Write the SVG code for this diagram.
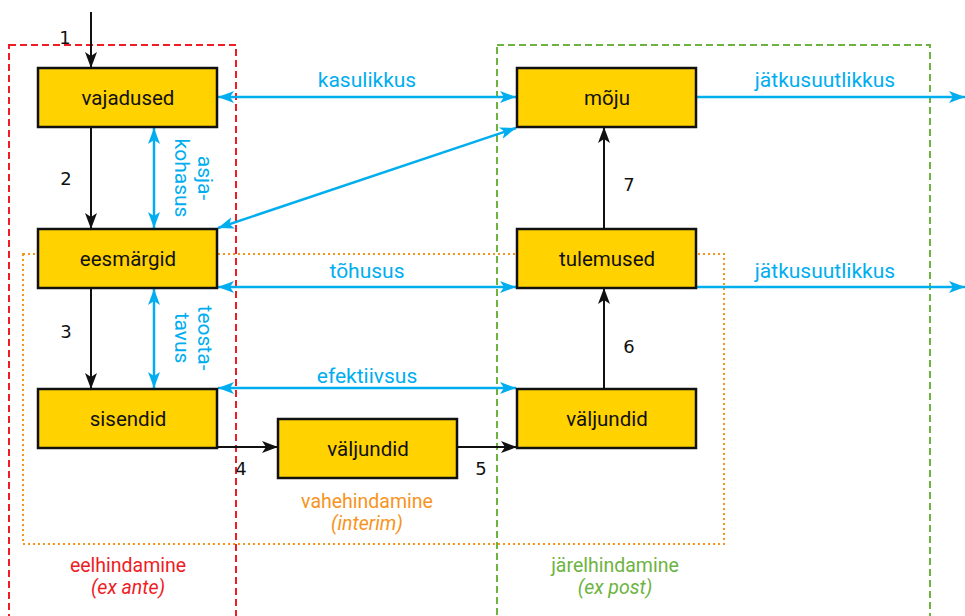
<svg xmlns="http://www.w3.org/2000/svg" width="965" height="616" viewBox="0 0 965 616">
<style>
.node rect{fill:#FFD200;stroke:#111;stroke-width:2.5}
.node text{font-family:Roboto,"Liberation Sans",sans-serif;font-size:20.5px;fill:#111;text-anchor:middle}
.blk{stroke:#111;stroke-width:2;fill:none}
.blu{stroke:#00AEEF;stroke-width:2.5;fill:none}
.bt{font-family:Roboto,"Liberation Sans",sans-serif;font-size:21px;fill:#00AEEF;text-anchor:middle}
.num{font-family:"DejaVu Sans",sans-serif;font-size:18px;fill:#111;text-anchor:middle}
.lab{font-family:Roboto,"Liberation Sans",sans-serif;font-size:19.5px;text-anchor:middle}
</style>
<defs>
<marker id="ab" viewBox="0 0 16 12" refX="16" refY="6" markerWidth="16" markerHeight="12" markerUnits="userSpaceOnUse" orient="auto-start-reverse">
<path d="M0,0 L16,6 L0,12 L4,6 z" fill="#00AEEF"/>
</marker>
<marker id="ak" viewBox="0 0 16 12" refX="16" refY="6" markerWidth="16" markerHeight="12" markerUnits="userSpaceOnUse" orient="auto-start-reverse">
<path d="M0,0 L16,6 L0,12 L4,6 z" fill="#111"/>
</marker>
</defs>
<rect width="965" height="616" fill="#fff"/>
<g id="regions">
<rect x="9" y="45" width="227" height="600" fill="none" stroke="#EE1C25" stroke-width="2" stroke-dasharray="7,4"/>
<rect x="497" y="45" width="433" height="600" fill="none" stroke="#6DB33F" stroke-width="2" stroke-dasharray="7,4"/>
<rect x="23" y="254" width="701" height="290" fill="none" stroke="#F7941D" stroke-width="2" stroke-dasharray="2,3"/>
</g>
<g id="connectors">
<line class="blk" x1="91" y1="12" x2="91" y2="68" marker-end="url(#ak)"/>
<line class="blk" x1="91" y1="127" x2="91" y2="229" marker-end="url(#ak)"/>
<line class="blk" x1="91" y1="288" x2="91" y2="389" marker-end="url(#ak)"/>
<line class="blk" x1="217" y1="447" x2="278" y2="447" marker-end="url(#ak)"/>
<line class="blk" x1="457" y1="447" x2="517" y2="447" marker-end="url(#ak)"/>
<line class="blk" x1="604" y1="389" x2="604" y2="288" marker-end="url(#ak)"/>
<line class="blk" x1="604" y1="229" x2="604" y2="127" marker-end="url(#ak)"/>
<line class="blu" x1="218" y1="97" x2="516" y2="97" marker-start="url(#ab)" marker-end="url(#ab)"/>
<line class="blu" x1="218" y1="228" x2="516" y2="128" marker-start="url(#ab)" marker-end="url(#ab)"/>
<line class="blu" x1="218" y1="287" x2="516" y2="287" marker-start="url(#ab)" marker-end="url(#ab)"/>
<line class="blu" x1="218" y1="388" x2="516" y2="388" marker-start="url(#ab)" marker-end="url(#ab)"/>
<line class="blu" x1="697" y1="97" x2="965" y2="97" marker-end="url(#ab)"/>
<line class="blu" x1="697" y1="287" x2="965" y2="287" marker-end="url(#ab)"/>
<line class="blu" x1="154" y1="128" x2="154" y2="228" marker-start="url(#ab)" marker-end="url(#ab)"/>
<line class="blu" x1="154" y1="289" x2="154" y2="388" marker-start="url(#ab)" marker-end="url(#ab)"/>
</g>
<g id="connector-labels">
<text class="num" x="65" y="44">1</text>
<text class="num" x="66" y="185">2</text>
<text class="num" x="66" y="338">3</text>
<text class="num" x="241" y="475">4</text>
<text class="num" x="481" y="475">5</text>
<text class="num" x="629" y="353">6</text>
<text class="num" x="629" y="191">7</text>
<text class="bt" x="367" y="87">kasulikkus</text>
<text class="bt" x="367" y="278">tõhusus</text>
<text class="bt" x="367" y="383">efektiivsus</text>
<text class="bt" x="825" y="87">jätkusuutlikkus</text>
<text class="bt" x="825" y="278">jätkusuutlikkus</text>
<g transform="translate(194,178) rotate(90)">
<text class="bt" x="0" y="-4">asja-</text>
<text class="bt" x="0" y="19">kohasus</text>
</g>
<g transform="translate(194,338) rotate(90)">
<text class="bt" x="0" y="-4">teosta-</text>
<text class="bt" x="0" y="19">tavus</text>
</g>
</g>
<g id="n-vajadused" class="node"><rect x="38" y="68" width="179" height="59"/><text x="128" y="105">vajadused</text></g>
<g id="n-eesmargid" class="node"><rect x="38" y="229" width="179" height="59"/><text x="128" y="266">eesmärgid</text></g>
<g id="n-sisendid" class="node"><rect x="38" y="389" width="179" height="59"/><text x="128" y="426">sisendid</text></g>
<g id="n-valjundid1" class="node"><rect x="278" y="419" width="179" height="59"/><text x="368" y="456">väljundid</text></g>
<g id="n-moju" class="node"><rect x="517" y="68" width="179" height="59"/><text x="607" y="105">mõju</text></g>
<g id="n-tulemused" class="node"><rect x="517" y="229" width="179" height="59"/><text x="607" y="266">tulemused</text></g>
<g id="n-valjundid2" class="node"><rect x="517" y="389" width="179" height="59"/><text x="607" y="426">väljundid</text></g>
<g id="region-labels">
<text class="lab" x="128" y="572" fill="#EE1C25">eelhindamine</text>
<text class="lab" x="128" y="594" fill="#EE1C25" font-style="italic">(ex ante)</text>
<text class="lab" x="367" y="508" fill="#F7941D">vahehindamine</text>
<text class="lab" x="367" y="530" fill="#F7941D" font-style="italic">(interim)</text>
<text class="lab" x="615" y="572" fill="#6DB33F">järelhindamine</text>
<text class="lab" x="615" y="594" fill="#6DB33F" font-style="italic">(ex post)</text>
</g>
</svg>
